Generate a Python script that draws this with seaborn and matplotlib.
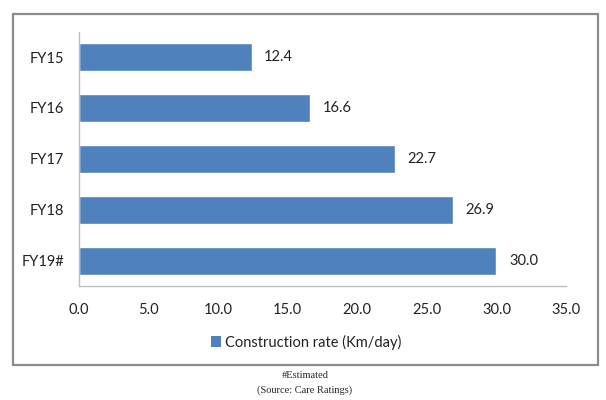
import matplotlib
matplotlib.use('Agg')
import matplotlib.pyplot as plt
import seaborn as sns
import pandas as pd
from matplotlib.patches import Patch, Rectangle

years = ['FY15', 'FY16', 'FY17', 'FY18', 'FY19#']
rate = [12.4, 16.6, 22.7, 26.9, 30.0]
series_name = 'Construction rate (Km/day)'
xticks = [0, 5, 10, 15, 20, 25, 30, 35]

df = pd.DataFrame({'year': years, 'rate': rate})

sns.set_style('white')
plt.rcParams['font.family'] = ['Lato', 'DejaVu Sans']

bar_color = '#4F81BD'
grey = '#BFBFBF'

fig = plt.figure(figsize=(6.06, 4.0), dpi=100)
ax = fig.add_axes([0.1304, 0.285, 0.8036, 0.636])

sns.barplot(data=df, x='rate', y='year', orient='h', color=bar_color,
            width=0.55, saturation=1, ax=ax)
ax.bar_label(ax.containers[0], fmt='%.1f', padding=9, fontsize=10.5, color='#222222')

ax.set_xlim(0, 35)
ax.set_xticks(xticks)
ax.set_xticklabels([f'{t:.1f}' for t in xticks])
ax.set_xlabel('')
ax.set_ylabel('')
ax.tick_params(axis='both', length=0, labelsize=10.5, colors='#222222')
ax.tick_params(axis='x', pad=12)
ax.tick_params(axis='y', pad=10.5)
for side in ['top', 'right']:
    ax.spines[side].set_visible(False)
for side in ['left', 'bottom']:
    ax.spines[side].set_color(grey)
    ax.spines[side].set_linewidth(1.0)

handle = Patch(facecolor=bar_color, edgecolor='none')
fig.legend([handle], [series_name], loc='center', bbox_to_anchor=(0.505, 0.145),
           frameon=False, fontsize=10.5, handlelength=0.7, handleheight=0.7,
           handletextpad=0.3, labelcolor='#222222')

# outer chart frame
fig.patches.append(Rectangle((13 / 606, 1 - 365 / 400), 585 / 606, 351 / 400,
                             transform=fig.transFigure, fill=False,
                             edgecolor='#8C8C8C', linewidth=1.6))

fig.text(0.503, 1 - 375 / 400, '#Estimated', ha='center', va='center',
         fontsize=7.5, family=['Liberation Serif'])
fig.text(0.503, 1 - 390 / 400, '(Source: Care Ratings)', ha='center', va='center',
         fontsize=7.5, family=['Liberation Serif'])

fig.savefig('out.png', dpi=100)
